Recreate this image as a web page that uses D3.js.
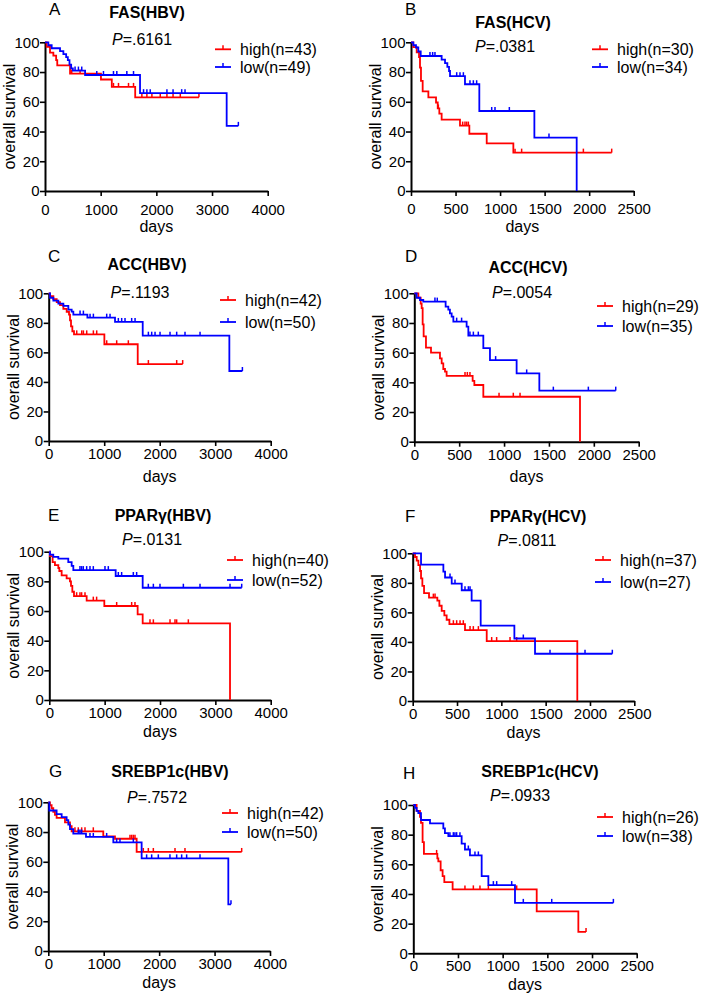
<!DOCTYPE html>
<html><head><meta charset="utf-8">
<script src="https://cdn.jsdelivr.net/npm/d3@7"></script>
<style>
body{margin:0;background:#fff}
svg{display:block}
text{font-family:"Liberation Sans",Arial,Helvetica,sans-serif;fill:#000}
</style>
</head><body>
<svg id="chart" width="702" height="1001"></svg>
<script>
// ---------- data (days, % survival) ----------
const panelLetters = ["A","B","C","D","E","F","G","H"];
const panelTitles = ["FAS(HBV)","FAS(HCV)","ACC(HBV)","ACC(HCV)","PPARγ(HBV)","PPARγ(HCV)","SREBP1c(HBV)","SREBP1c(HCV)"];
const pValues = [".6161",".0381",".1193",".0054",".0131",".0811",".7572",".0933"];
const highN = [43,30,42,29,40,37,42,26];
const lowN = [49,34,50,35,52,27,50,38];
const xTicksHBV = [0,1000,2000,3000,4000];
const xTicksHCV = [0,500,1000,1500,2000,2500];
const yTicks = [0,20,40,60,80,100];

const fasHbvHigh = [[30,97],[90,93],[150,91],[200,88],[220,84.5],[450,79],[1005,75],[1200,70],[1620,63],[2765,63]];
const fasHbvHighCens = [480,630,1230,1320,1500,1590,1740,1830,1920,2070,2190,2300,2430,2765];
const fasHbvLow = [[60,98],[120,96],[270,94],[330,92],[380,90],[410,88],[440,85],[470,82.5],[500,81],[720,78],[1707,65.8],[3263,43.8],[3473,43.8]];
const fasHbvLowCens = [540,600,660,930,1050,1230,1290,1470,1590,1770,1830,1890,2190,2300,2455,2515,3473];

const fasHcvHigh = [[26,96.7],[64,93.3],[90,90],[101,83],[112,74],[131,67],[195,63],[281,59.5],[300,55.5],[318,52],[344,48],[550,44],[655,38.5],[850,32],[1149,25.8],[2253,25.8]];
const fasHcvHighCens = [307,580,606,625,644,1168,1242,1935,2253];
const fasHcvLow = [[26,98],[56,96.5],[82,93.8],[109,90.8],[344,88.4],[382,86],[408,83.5],[427,80.7],[438,77.2],[606,71.8],[767,53.8],[1385,35.9],[1860,0]];
const fasHcvLowCens = [213,243,269,513,550,588,662,700,737,906,943,1104,1549];

const accHbvHigh = [[24,98],[84,96],[144,94],[204,92],[264,89.5],[324,87.5],[366,85.5],[384,81.7],[402,77.6],[426,74.3],[456,72.2],[1003,65.5],[1604,52.1],[2414,52.1]];
const accHbvHighCens = [505,595,625,685,805,865,1045,1225,1435,1796,2306,2414];
const accHbvLow = [[24,97],[84,95],[174,93],[264,91.5],[354,89],[414,87.6],[444,85.6],[697,83.5],[1195,80.6],[1694,71.3],[3255,47.4],[3490,47.4]];
const accHbvLowCens = [565,625,745,805,1045,1105,1255,1315,1375,1495,1556,1796,1856,1916,2006,2186,2306,2456,2727,3490];

const accHcvHigh = [[45,97],[71,93],[82,90],[93,79],[104,71],[130,63.4],[186,60],[286,56.2],[305,52.8],[323,49],[342,47.2],[360,44.3],[650,41],[669,38.2],[769,30.3],[1846,0]];
const accHcvHighCens = [565,591,620,944,1103,1178];
const accHcvLow = [[26,97],[63,95.5],[100,94.4],[349,91],[379,89],[397,86.5],[416,84.3],[435,80.9],[583,77.5],[602,71.5],[769,63],[843,55],[1140,46],[1393,34.4],[2244,34.4]];
const accHcvLowCens = [230,256,472,527,620,658,713,906,1252,1549,1939,2244];

const pparHbvHigh = [[12,97],[60,93],[102,91],[163,89],[181,87],[223,84],[313,82],[373,80],[392,77],[416,73],[446,70],[675,67],[994,63.4],[1596,57.8],[1687,51.7],[3265,0]];
const pparHbvHighCens = [494,554,584,645,795,855,1217,1488,1548,1819,1880,2181,2271,2301,2512];
const pparHbvLow = [[12,98],[72,96.5],[163,95.3],[343,93],[404,90.5],[434,87.6],[1199,83.6],[1687,75.7],[3476,75.7]];
const pparHbvLowCens = [554,584,614,675,735,795,1006,1066,1247,1307,1518,1578,1789,1880,2000,2422,2723,3265,3476];

const pparHcvHigh = [[26,97.5],[45,95],[64,92],[83,88],[94,83],[109,78],[128,73],[184,70],[278,68],[301,64.5],[327,61],[357,58],[383,55],[414,52],[590,48],[835,40.6],[1857,0]];
const pparHcvHighCens = [233,252,459,496,534,571,647,684,741,891,947,1098,1173];
const pparHcvLow = [[94,92.3],[346,87.6],[365,83.6],[440,79.5],[553,75],[665,68],[767,51],[1147,42.3],[1380,32],[2252,32]];
const pparHcvLowCens = [421,477,590,628,647,1248,1549,1944,2252];

const srebpHbvHigh = [[30,98],[60,96],[90,93.5],[120,91.5],[150,89.5],[301,86.5],[391,84],[421,80.5],[992,77],[1203,75.5],[1594,66.6],[3489,66.6]];
const srebpHbvHighCens = [481,541,602,662,812,1474,1504,1534,1564,1714,1805,1895,2286,2466,3489];
const srebpHbvLow = [[18,94.5],[150,92],[241,90],[331,88],[361,85],[391,82],[451,79],[680,76.7],[1173,73],[1684,62.3],[3248,31.4],[3296,31.4]];
const srebpHbvLowCens = [541,571,602,752,812,1053,1233,1293,1534,1774,1865,1985,2195,2316,2406,2496,2737,3296];

const srebpHcvHigh = [[37,96],[75,92],[86,88],[104,75],[119,67],[269,64],[280,62],[306,56],[328,52],[347,48],[440,43.1],[1381,28.3],[1847,14.4],[1933,14.4]];
const srebpHcvHighCens = [261,578,672,746,840,1157,1933];
const srebpHcvLow = [[19,98],[37,96],[56,94.5],[86,89.9],[187,87.6],[336,84.3],[354,81],[392,79],[541,74],[578,70],[634,66],[765,52],[840,46],[1138,34],[2239,34]];
const srebpHcvLowCens = [410,448,466,485,522,616,690,728,896,933,1101,1231,1549,2239];

const highSeries = [fasHbvHigh,fasHcvHigh,accHbvHigh,accHcvHigh,pparHbvHigh,pparHcvHigh,srebpHbvHigh,srebpHcvHigh];
const highCens = [fasHbvHighCens,fasHcvHighCens,accHbvHighCens,accHcvHighCens,pparHbvHighCens,pparHcvHighCens,srebpHbvHighCens,srebpHcvHighCens];
const lowSeries = [fasHbvLow,fasHcvLow,accHbvLow,accHcvLow,pparHbvLow,pparHcvLow,srebpHbvLow,srebpHcvLow];
const lowCens = [fasHbvLowCens,fasHcvLowCens,accHbvLowCens,accHcvLowCens,pparHbvLowCens,pparHcvLowCens,srebpHbvLowCens,srebpHcvLowCens];

// ---------- layout (page pixels) ----------
const layout = [
  {left:45,   top:42.3,  right:267.7, bottom:191,   tickB:23.5, titleX:147, titleY:18,  letX:49,  letY:15,  pX:142, pY:45,  legX:215, legY:[49.3,67],  daysY:232, hbv:true},
  {left:411,  top:42.3,  right:633.7, bottom:191,   tickB:22.5, titleX:513, titleY:28,  letX:405, letY:15,  pX:505, pY:52,  legX:592, legY:[49.3,67],  daysY:232, hbv:false},
  {left:48.7, top:293.3, right:270.7, bottom:441,   tickB:18,   titleX:147, titleY:270, letX:48,  letY:262, pX:140, pY:298, legX:220, legY:[300,322],  daysY:482, hbv:true},
  {left:414.3,top:293.3, right:638.7, bottom:441.7, tickB:18,   titleX:528, titleY:273, letX:405, letY:262, pX:522, pY:298, legX:597, legY:[306,326],  daysY:482, hbv:false},
  {left:49.3, top:551.7, right:270.7, bottom:700,   tickB:18.3, titleX:163, titleY:521, letX:48,  letY:521, pX:152, pY:545, legX:227, legY:[560,580],  daysY:737, hbv:true},
  {left:412.7,top:553.3, right:634.3, bottom:701,   tickB:18.3, titleX:538, titleY:522, letX:405, letY:522, pX:527, pY:546, legX:595, legY:[560,582],  daysY:738, hbv:false},
  {left:48.3, top:802.3, right:270,   bottom:951,   tickB:18,   titleX:170, titleY:777, letX:49,  letY:777, pX:157, pY:803, legX:222, legY:[813,832],  daysY:988, hbv:true},
  {left:413.3,top:805,   right:636.7, bottom:953.3, tickB:18,   titleX:540, titleY:777, letX:403, letY:779, pX:520, pY:801, legX:597, legY:[817,836],  daysY:990, hbv:false}
];
const RED = "#ff0000", BLUE = "#0000ff";
const TICK_FS = 15;

const svg = d3.select("#chart");
const bis = d3.bisector(d => d[0]).right;

layout.forEach((L, i) => {
  const xTicks = L.hbv ? xTicksHBV : xTicksHCV;
  const x = d3.scaleLinear().domain([0, d3.max(xTicks)]).range([L.left, L.right]);
  const y = d3.scaleLinear().domain([0, 100]).range([L.bottom, L.top]);
  const g = svg.append("g");

  // axes
  const xa = g.append("g").attr("transform", `translate(0,${L.bottom})`)
    .call(d3.axisBottom(x).tickValues(xTicks).tickSize(5).tickSizeOuter(0)
      .tickPadding(L.tickB - 5 - 0.72 * TICK_FS).tickFormat(d3.format("d")));
  const ya = g.append("g").attr("transform", `translate(${L.left},0)`)
    .call(d3.axisLeft(y).tickValues(yTicks).tickSize(5).tickSizeOuter(0).tickPadding(0.5));
  [xa, ya].forEach(a => {
    a.select(".domain").attr("stroke", "#000").attr("stroke-width", 2);
    a.selectAll(".tick line").attr("stroke", "#000").attr("stroke-width", 1.6);
    a.selectAll(".tick text").attr("font-size", TICK_FS).attr("font-family", '"Liberation Sans",Arial,sans-serif').attr("fill", "#000");
  });
  xa.selectAll(".tick text").attr("dy", "0.72em");

  // curves
  const line = d3.line().x(d => x(d[0])).y(d => y(d[1])).curve(d3.curveStepAfter);
  const groups = [
    {steps: [[0,100]].concat(highSeries[i]), cens: highCens[i], color: RED},
    {steps: [[0,100]].concat(lowSeries[i]), cens: lowCens[i], color: BLUE}
  ];
  groups.forEach(s => {
    g.append("path").datum(s.steps).attr("d", line)
      .attr("fill", "none").attr("stroke", s.color).attr("stroke-width", 1.8);
    g.selectAll(null).data(s.cens).enter().append("line")
      .attr("x1", d => x(d)).attr("x2", d => x(d))
      .attr("y1", d => y(s.steps[Math.max(0, bis(s.steps, d) - 1)][1]))
      .attr("y2", d => y(s.steps[Math.max(0, bis(s.steps, d) - 1)][1]) - 4)
      .attr("stroke", s.color).attr("stroke-width", 1.5);
  });

  // labels
  g.append("text").attr("x", L.left - 30).attr("y", (L.top + L.bottom) / 2)
    .attr("transform", `rotate(-90,${L.left - 30},${(L.top + L.bottom) / 2})`)
    .attr("text-anchor", "middle").attr("font-size", 16).text("overall survival");
  g.append("text").attr("x", (L.left + L.right) / 2).attr("y", L.daysY)
    .attr("text-anchor", "middle").attr("font-size", 16).text("days");
  g.append("text").attr("x", L.letX).attr("y", L.letY).attr("font-size", 17).text(panelLetters[i]);
  g.append("text").attr("x", L.titleX).attr("y", L.titleY).attr("text-anchor", "middle")
    .attr("font-size", 16).attr("font-weight", "bold").text(panelTitles[i]);
  const pt = g.append("text").attr("x", L.pX).attr("y", L.pY).attr("text-anchor", "middle").attr("font-size", 16);
  pt.append("tspan").attr("font-style", "italic").text("P");
  pt.append("tspan").text("=" + pValues[i]);

  // legend
  const legItems = [{c: RED, t: `high(n=${highN[i]})`}, {c: BLUE, t: `low(n=${lowN[i]})`}];
  legItems.forEach((it, k) => {
    const ly = L.legY[k];
    g.append("line").attr("x1", L.legX).attr("x2", L.legX + 16).attr("y1", ly).attr("y2", ly)
      .attr("stroke", it.c).attr("stroke-width", 1.8);
    g.append("line").attr("x1", L.legX + 8).attr("x2", L.legX + 8).attr("y1", ly).attr("y2", ly - 4)
      .attr("stroke", it.c).attr("stroke-width", 1.5);
    g.append("text").attr("x", L.legX + 25).attr("y", ly + 5.5).attr("font-size", 16).text(it.t);
  });
});
</script>
</body></html>
